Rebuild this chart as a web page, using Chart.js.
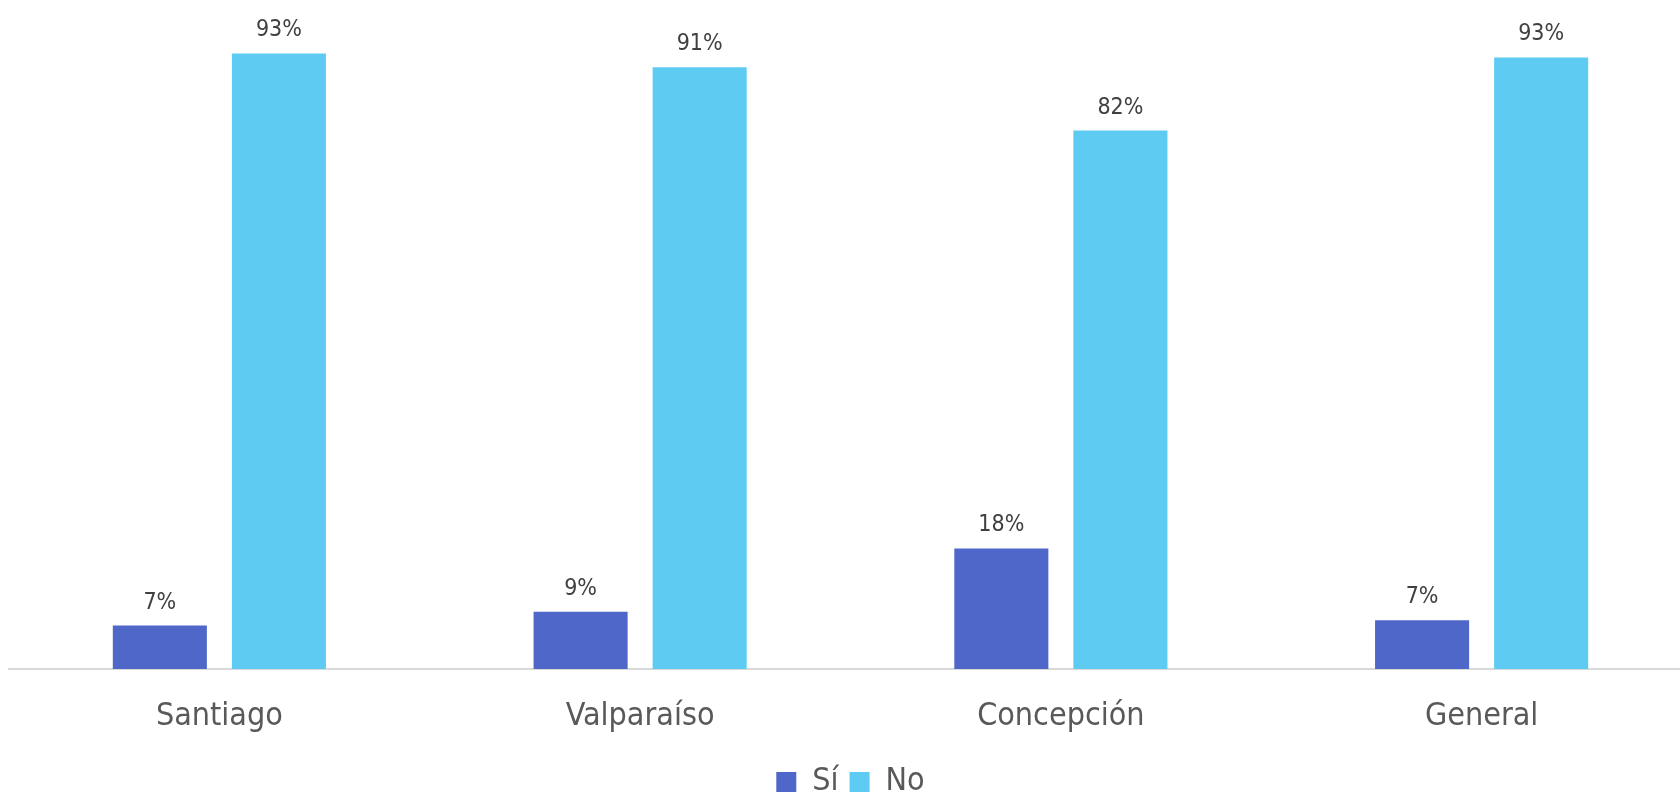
<!DOCTYPE html>
<html>
<head>
<meta charset="utf-8">
<script src="https://cdn.jsdelivr.net/npm/chart.js@4"></script>
<style>
  html, body { margin: 0; padding: 0; background: #fff; overflow: hidden; }
  #wrap { width: 1692px; height: 792px; }
</style>
</head>
<body>
<div id="wrap"><canvas id="myChart"></canvas></div>
<script>
// ciudades y porcentajes
const labels = ["Santiago", "Valparaíso", "Concepción", "General"];
const valoresSi = [6.6, 8.7, 18.3, 7.4];
const valoresNo = [93.4, 91.3, 81.7, 92.8];

const fuente = "'Liberation Sans Narrow', 'Arial Narrow', 'DejaVu Sans Condensed', sans-serif";

// etiquetas de porcentaje sobre cada barra
const etiquetas = {
  id: "etiquetas",
  afterDatasetsDraw(chart) {
    const ctx = chart.ctx;
    ctx.save();
    ctx.font = "23px " + fuente;
    ctx.fillStyle = "#404040";
    ctx.textAlign = "center";
    ctx.textBaseline = "alphabetic";
    chart.data.datasets.forEach((ds, i) => {
      chart.getDatasetMeta(i).data.forEach((bar, j) => {
        ctx.fillText(Math.round(ds.data[j]) + "%", bar.x, bar.y - 17);
      });
    });
    ctx.restore();
  }
};

const datasets = [
  {
    label: "Sí",
    data: valoresSi,
    backgroundColor: "#4e67c8",
    categoryPercentage: 0.566,
    barPercentage: 0.79
  },
  {
    label: "No",
    data: valoresNo,
    backgroundColor: "#5ecbf2",
    categoryPercentage: 0.566,
    barPercentage: 0.79
  }];

new Chart(document.getElementById("myChart"), {
  type: "bar",
  data: {labels, datasets},
  plugins: [etiquetas],
  options: {
    responsive: true,
    maintainAspectRatio: false,
    animation: false,
    layout: { padding: { left: 9, right: 0, top: 10, bottom: -16 } },
    plugins: {
      tooltip: { enabled: false },
      legend: {
        position: "bottom",
        labels: {
          boxWidth: 20,
          boxHeight: 20,
          padding: 11,
          color: "#595959",
          font: { family: fuente, size: 32 }
        }
      }
    },
    scales: {
      x: {
        grid: { display: false, drawTicks: false },
        border: { display: true, color: "#d9d9d9", width: 2 },
        ticks: {
          color: "#595959",
          padding: 28,
          font: { family: fuente, size: 32 }
        },
        afterFit(scale) {
          scale.height = 86;
        }
      },
      y: {
        display: false,
        min: 0,
        max: 100
      }
    }
  }
});
</script>
</body>
</html>
